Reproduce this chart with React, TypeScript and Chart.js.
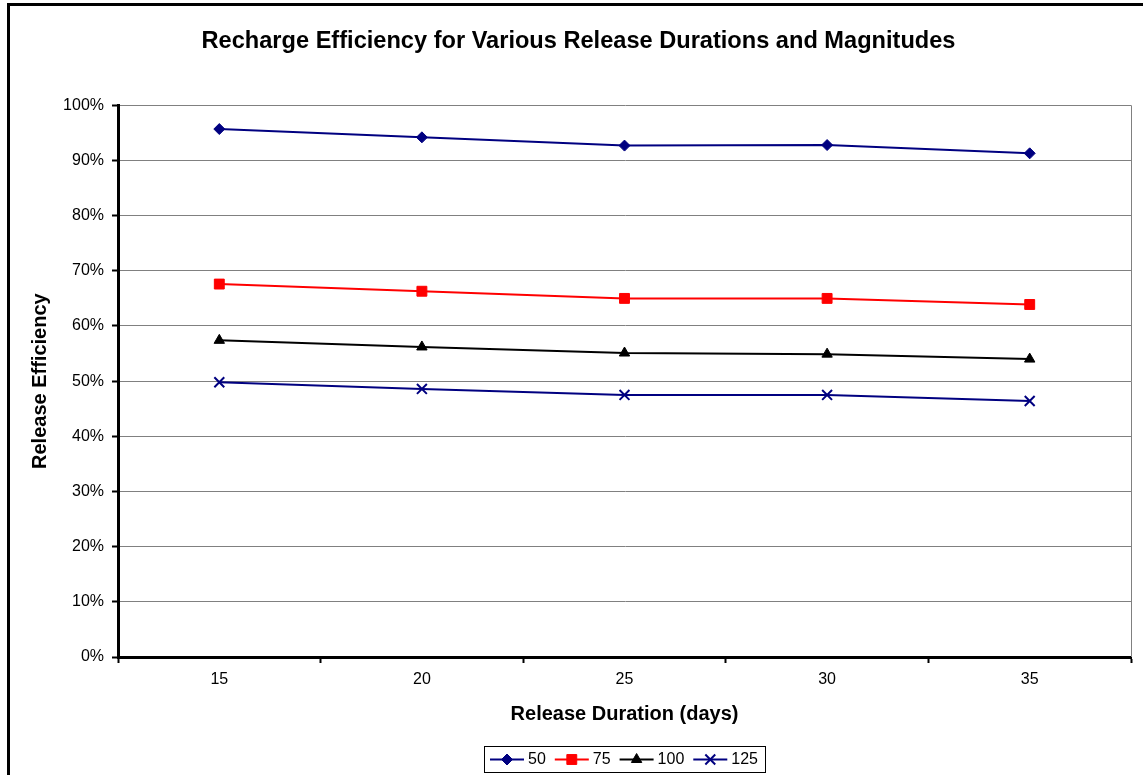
import React, { useEffect, useRef } from 'react';
import { Chart, registerables } from 'chart.js';
import { drawPoint } from 'chart.js/helpers';

Chart.register(...registerables);

const categories = ['15', '20', '25', '30', '35'];
const seriesLabels = ['50', '75', '100', '125'];
const series50 = [95.7, 94.2, 92.7, 92.8, 91.3];
const series75 = [67.6, 66.3, 65.0, 65.0, 63.9];
const series100 = [57.4, 56.2, 55.1, 54.9, 54.0];
const series125 = [49.8, 48.6, 47.5, 47.5, 46.4];
const yMin = 0;
const yMax = 100;
const yStep = 10;

const FONT = '"Liberation Sans", Arial, Helvetica, sans-serif';

const plotFramePlugin = {
  id: 'plotFrame',
  beforeDatasetsDraw(chart: any) {
    const { ctx, chartArea } = chart;
    ctx.save();
    ctx.strokeStyle = '#808080';
    ctx.lineWidth = 1;
    ctx.beginPath();
    const x = Math.round(chartArea.right) + 0.5;
    ctx.moveTo(x, chartArea.top);
    ctx.lineTo(x, chartArea.bottom);
    ctx.stroke();
    ctx.restore();
  },
};

const customLegendPlugin = {
  id: 'customLegend',
  afterDraw(chart: any) {
    const { ctx, chartArea } = chart;
    const datasets = chart.data.datasets;
    ctx.save();
    ctx.font = `16px ${FONT}`;
    const lineLen = 34;
    const gapLT = 4;
    const gapItem = 9;
    const padL = 6;
    const padR = 7;
    const widths = datasets.map((d: any) => ctx.measureText(d.label).width);
    let total = padL + padR + gapItem * (datasets.length - 1);
    widths.forEach((w: number) => (total += lineLen + gapLT + w));
    const cx = (chartArea.left + chartArea.right) / 2;
    const left = Math.round(cx - total / 2);
    const top = Math.round(chartArea.bottom + 89);
    const h = 26;
    ctx.strokeStyle = '#000';
    ctx.lineWidth = 1;
    ctx.strokeRect(left + 0.5, top + 0.5, Math.round(total), h);
    const cy = top + h / 2 + 0.5;
    let x = left + padL;
    datasets.forEach((d: any, i: number) => {
      ctx.strokeStyle = d.borderColor;
      ctx.lineWidth = d.borderWidth;
      ctx.beginPath();
      ctx.moveTo(x, cy);
      ctx.lineTo(x + lineLen, cy);
      ctx.stroke();
      ctx.fillStyle = d.pointBackgroundColor;
      ctx.strokeStyle = d.pointBorderColor;
      ctx.lineWidth = d.pointBorderWidth;
      drawPoint(ctx, { pointStyle: d.pointStyle, radius: d.pointRadius, borderWidth: d.pointBorderWidth, rotation: 0 }, x + lineLen / 2, cy);
      x += lineLen + gapLT;
      ctx.fillStyle = '#000';
      ctx.textBaseline = 'middle';
      ctx.textAlign = 'left';
      ctx.fillText(d.label, x, cy);
      x += widths[i] + gapItem;
    });
    ctx.restore();
  },
};

export default function App() {
  const canvasRef = useRef<HTMLCanvasElement | null>(null);

  useEffect(() => {
    if (!canvasRef.current) return;
    const mk = (label: string, data: number[], color: string, style: string, radius: number, bw: number) => ({
      label,
      data,
      yAxisID: 'y',
      borderColor: color,
      backgroundColor: color,
      borderWidth: 2,
      pointStyle: style,
      pointRadius: radius,
      pointHoverRadius: radius,
      pointBackgroundColor: color,
      pointBorderColor: color,
      pointBorderWidth: bw,
      tension: 0,
      fill: false,
    });
    const chart = new Chart(canvasRef.current, {
      type: 'line',
      data: {
        labels: categories,
        datasets: [
          mk(seriesLabels[0], series50, '#000080', 'rectRot', 5.5, 1),
          mk(seriesLabels[1], series75, '#FF0000', 'rect', 7, 1),
          mk(seriesLabels[2], series100, '#000000', 'triangle', 6, 1),
          mk(seriesLabels[3], series125, '#000080', 'crossRot', 7, 2),
        ],
      },
      plugins: [plotFramePlugin, customLegendPlugin],
      options: {
        responsive: false,
        animation: false,
        devicePixelRatio: 1,
        layout: { padding: { left: 0, right: 3, top: 0, bottom: 69 } },
        plugins: {
          legend: { display: false },
          tooltip: { enabled: false },
          title: {
            display: true,
            text: 'Recharge Efficiency for Various Release Durations and Magnitudes',
            color: '#000',
            font: { family: FONT, size: 23.6, weight: 'bold' },
            padding: { top: 21, bottom: 50 },
          },
        },
        scales: {
          x: {
            type: 'category',
            offset: true,
            grid: {
              display: true,
              offset: true,
              drawOnChartArea: false,
              drawTicks: true,
              tickLength: 6,
              tickColor: '#000',
              tickWidth: 2,
              color: '#000',
            },
            border: { display: true, color: '#000', width: 3 },
            ticks: { color: '#000', font: { family: FONT, size: 16 }, padding: 7, maxRotation: 0 },
            title: {
              display: true,
              text: 'Release Duration (days)',
              color: '#000',
              font: { family: FONT, size: 20, weight: 'bold' },
              padding: { top: 0, bottom: 1 },
            },
            afterFit: (s: any) => {
              s.height = 70;
            },
          },
          y: {
            min: yMin,
            max: yMax,
            grid: {
              color: (c: any) => (c.tick && c.tick.value === 0 ? 'rgba(0,0,0,0)' : '#808080'),
              lineWidth: 1,
              tickLength: 6,
              tickColor: '#000',
              tickWidth: 2,
            },
            border: { display: true, color: '#000', width: 3 },
            ticks: {
              stepSize: yStep,
              color: '#000',
              font: { family: FONT, size: 16 },
              padding: 8,
              callback: (v: any) => `${v}%`,
            },
            title: {
              display: true,
              text: 'Release Efficiency',
              color: '#000',
              font: { family: FONT, size: 20, weight: 'bold' },
              padding: { top: 18, bottom: 0 },
            },
            afterFit: (s: any) => {
              s.width = 108;
            },
          },
          spacer: {
            type: 'linear',
            position: 'right',
            display: true,
            grid: { display: false, drawTicks: false },
            border: { display: false },
            ticks: { display: false },
            title: { display: false },
            afterFit: (s: any) => {
              s.width = 16;
            },
          },
        },
      } as any,
    });
    return () => chart.destroy();
  }, []);

  return (
    <div style={{ position: 'fixed', left: 0, top: 0, width: 1143, height: 775, overflow: 'hidden', background: '#fff' }}>
      <div
        style={{
          position: 'absolute',
          left: 7,
          top: 3,
          width: 1180,
          height: 820,
          border: '3px solid #000',
          background: '#fff',
        }}
      >
        <canvas ref={canvasRef} width={1140} height={790} style={{ display: 'block', width: 1140, height: 790 }} />
      </div>
    </div>
  );
}
